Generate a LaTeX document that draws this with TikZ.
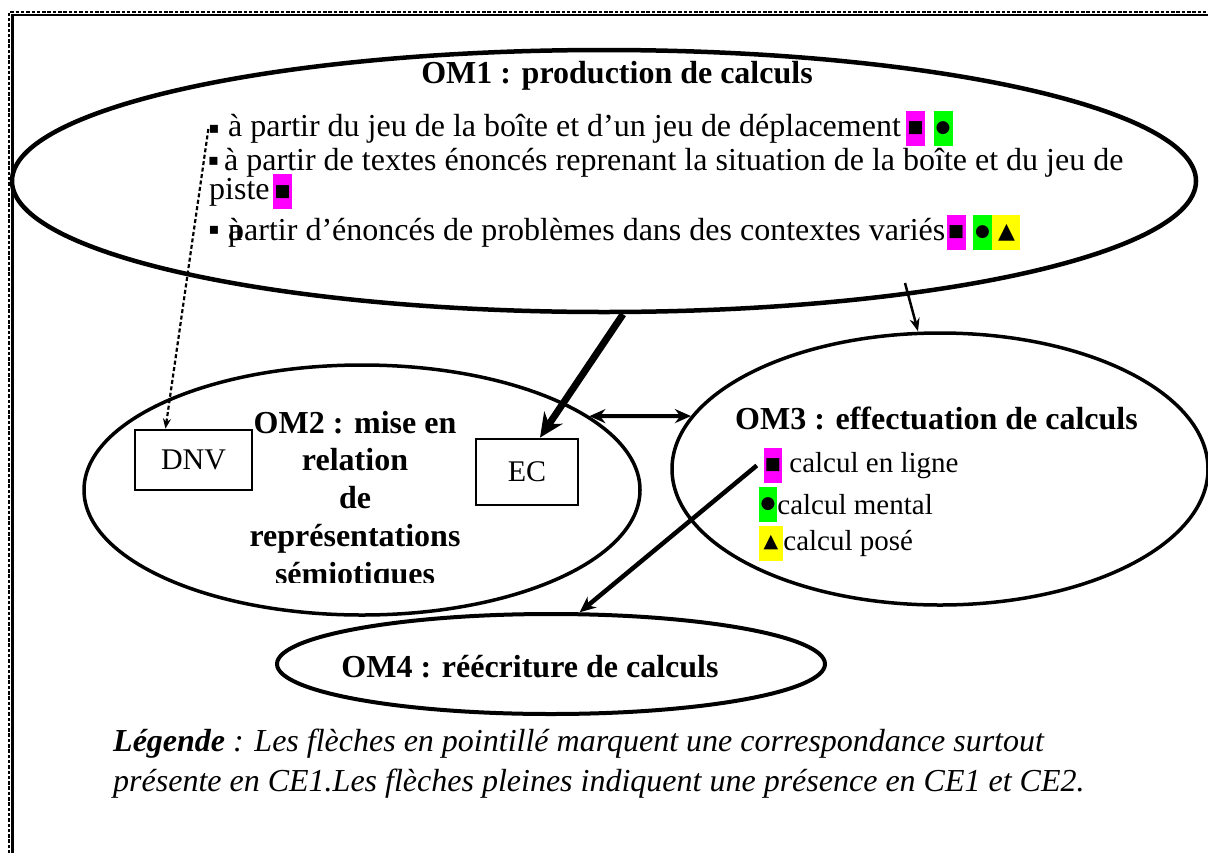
\documentclass[tikz,border=0pt]{standalone}
\usepackage{fontspec}
\setmainfont{Liberation Serif}
\newfontfamily\symfont{DejaVu Sans}
\usetikzlibrary{positioning, arrows.meta, shapes.geometric}

\definecolor{hlpink}{RGB}{255,0,255}
\definecolor{hlgreen}{RGB}{0,255,0}
\definecolor{hlyellow}{RGB}{255,255,0}

\begin{document}
\begin{tikzpicture}[
    x=1pt, y=-1pt,
    font=\fontsize{32}{37}\selectfont,
    node distance=6pt,
    >={Stealth[length=16pt, width=14pt]},
    om/.style={
        ellipse, draw=black, inner sep=0pt
    },
    ttl/.style={
        inner sep=0pt, font=\fontsize{32}{37}\selectfont\bfseries
    },
    txt/.style={
        inner sep=0pt, anchor=base west
    },
    small/.style={
        inner sep=0pt, font=\fontsize{29}{34}\selectfont
    },
    repbox/.style={
        rectangle, draw=black, line width=2.8pt, inner sep=0pt,
        font=\fontsize{30}{30}\selectfont
    },
    hl/.style={
        inner sep=0pt, minimum width=19pt, minimum height=35pt,
        font=\symfont\fontsize{17}{17}\selectfont
    },
    pinkhl/.style={hl, fill=hlpink},
    greenhl/.style={hl, fill=hlgreen},
    yellowhl/.style={hl, fill=hlyellow, minimum width=28pt},
    bul/.style={
        inner sep=0pt, font=\symfont\fontsize{16}{16}\selectfont
    }
]
\useasboundingbox (0,0) rectangle (1208,852);
\clip (0,0) rectangle (1208,852);

% ============ FRAME ============
\draw[line width=2.6pt] (12.5,880) |- (1240,14.8);
\draw[line width=2.4pt, dash pattern=on 3.5pt off 1.8pt] (9.2,880) |- (1240,12);

% ============ OM1 ============
\node[om, line width=4.5pt, minimum width=1184pt, minimum height=262pt] (om1) at (604,181) {};
\node[ttl, anchor=base] (t1) at (617,83) {OM1 : production de calculs};

\node[bul] (b1) at (214,129) {▪};
\node[txt] (l1) at (228,136) {à partir du jeu de la boîte et d’un jeu de déplacement};
\node[pinkhl, right=5pt of l1] (l1a) {■};
\node[greenhl, right=8pt of l1a] (l1b) {●};

\node[bul] (b2) at (213.5,161) {▪};
\node[txt] (l2) at (224,170) {à partir de textes énoncés reprenant la situation de la boîte et du jeu de};
\node[txt] (l2p) at (209,199) {piste};
\node[pinkhl, right=3pt of l2p] (l2a) {■};

\node[bul] (b3) at (214,230) {▪};
\node[txt] at (228,240) {à};
\node[txt] (l3) at (228,240) {partir d’énoncés de problèmes dans des contextes variés};
\node[pinkhl, right=1pt of l3] (l3a) {■};
\node[greenhl, right=7pt of l3a] (l3b) {●};
\node[yellowhl, right=0pt of l3b] (l3c) {\fontsize{22}{22}\selectfont▲};

% ============ OM2 ============
\node[om, line width=3.5pt, minimum width=556pt, minimum height=250pt] (om2) at (362,490) {};
\begin{scope}
    \clip (200,380) rectangle (520,582);
    \node[ttl, anchor=base] (t2a) at (355,433) {OM2 : mise en};
    \node[ttl, anchor=base] (t2b) at (355,470) {relation};
    \node[ttl, anchor=base] (t2c) at (355,508) {de};
    \node[ttl, anchor=base] (t2d) at (355,546) {représentations};
    \node[ttl, anchor=base] (t2e) at (355,584) {sémiotiques};
\end{scope}
\node[repbox, minimum width=117pt, minimum height=60pt] (dnv) at (193.5,460) {DNV};
\node[repbox, minimum width=102pt, minimum height=66pt] (ec) at (527,472) {EC};

% ============ OM3 ============
\node[om, line width=3.5pt, minimum width=536pt, minimum height=272pt] (om3) at (940,469) {};
\node[ttl, anchor=base west] (t3) at (735,429) {OM3 : effectuation de calculs};
\node[pinkhl, minimum width=18pt] (o3a) at (773,465.5) {■};
\node[small, right=7pt of o3a] (o3at) {calcul en ligne};
\node[greenhl, minimum width=18pt] (o3b) at (768,504.5) {●};
\node[small, right=0pt of o3b] (o3bt) {calcul mental};
\node[yellowhl, minimum width=24pt] (o3c) at (771,543) {\fontsize{19}{19}\selectfont▲};
\node[small, right=0pt of o3c] (o3ct) {calcul posé};

% ============ OM4 ============
\node[om, line width=4pt, minimum width=548pt, minimum height=100pt] (om4) at (551,664) {};
\node[ttl, anchor=base] (t4) at (530,677) {OM4 : réécriture de calculs};

% ============ ARROWS ============
\draw[->, line width=2.2pt, dash pattern=on 4pt off 2.5pt,
      >={Stealth[length=10pt, width=8pt]}] (b1.west) -- ([xshift=-28pt]dnv.north);
\draw[->, line width=7pt, >={Stealth[length=24pt, width=22pt]}]
    ([xshift=19pt]om1.south) -- ([xshift=13pt]ec.north);
\coordinate (o1tail) at (905,283);
\draw[->, line width=2.5pt, >={Stealth[length=13pt, width=10pt]}]
    (o1tail) -- ([xshift=-22pt]om3.north);
\draw[<->, line width=4pt] (om2.18) -- (om3.168);
\draw[->, line width=4.5pt] ([xshift=-7pt]o3a.west) -- (om4.61.6);

% ============ LEGEND ============
\node[txt, font=\fontsize{32}{37}\selectfont\itshape] (lg1) at (113,751)
    {\textbf{Légende} : Les flèches en pointillé marquent une correspondance surtout};
\node[txt, font=\fontsize{32}{37}\selectfont\itshape] (lg2) at (113,791)
    {présente en CE1.Les flèches pleines indiquent une présence en CE1 et CE2.};

\end{tikzpicture}
\end{document}
